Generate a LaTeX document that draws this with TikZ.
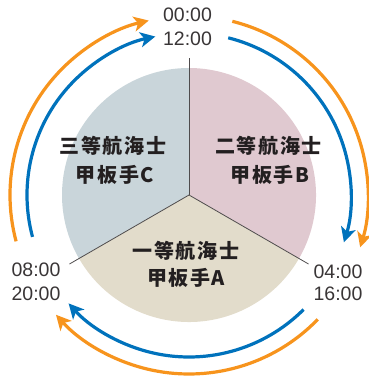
\documentclass[tikz,border=0pt]{standalone}
\usepackage{fontspec}
\setmainfont{Liberation Sans}
\newfontfamily\jp{Noto Sans CJK JP}[LetterSpace=8]
\usetikzlibrary{arrows.meta}
\definecolor{orng}{HTML}{F7941D}
\definecolor{blu}{HTML}{0072BC}
\definecolor{pieC}{HTML}{C9D5DA}
\definecolor{pieB}{HTML}{E0C9D0}
\definecolor{pieA}{HTML}{E2DCCB}
\definecolor{txt}{HTML}{231F20}
\tikzset{
  timelbl/.style={font=\fontsize{19.5}{23}\selectfont, text=txt!90, inner sep=0pt, anchor=center},
  jplbl/.style={font=\jp\bfseries\fontsize{20}{22}\selectfont, text=txt, inner sep=0pt, anchor=center},
  leader/.style={draw=txt!80, line width=0.8pt},
  orarc/.style={draw=orng, line width=3.2pt, -{Stealth[length=15pt,width=15pt,inset=4pt]}},
  blarc/.style={draw=blu, line width=3.2pt, -{Stealth[length=15pt,width=15pt,inset=4pt]}},
}
\begin{document}
\begin{tikzpicture}[x=1pt,y=1pt]
\useasboundingbox (0,0) rectangle (369,378);
\coordinate (c) at (189,183);
% pie
\fill[pieC] (c) -- ++(90:127) arc[start angle=90,end angle=210,radius=127] -- cycle;
\fill[pieB] (c) -- ++(-30:127) arc[start angle=-30,end angle=90,radius=127] -- cycle;
\fill[pieA] (c) -- ++(210:127) arc[start angle=210,end angle=330,radius=127] -- cycle;
% leader lines
\path (c) ++(90:137) coordinate (lt);
\path (c) ++(330:138) coordinate (lr);
\path (c) ++(210:138) coordinate (ll);
\draw[leader] (c) -- (lt);
\draw[leader] (c) -- (lr);
\draw[leader] (c) -- (ll);
% arcs
\draw[orarc] (c) ++(195:179) arc[start angle=195,end angle=103,radius=179];
\draw[blarc] (c) ++(195:162) arc[start angle=195,end angle=102,radius=162];
\draw[orarc] (c) ++(76:179) arc[start angle=76,end angle=-17,radius=179];
\draw[blarc] (c) ++(76:162) arc[start angle=76,end angle=-17,radius=162];
\draw[orarc] (c) ++(-44:179) arc[start angle=-44,end angle=-138,radius=179];
\draw[blarc] (c) ++(-45:162) arc[start angle=-45,end angle=-138,radius=162];
% time labels
\node[timelbl] (t0) at (187.5,363) {00:00};
\node[timelbl] (t12) at (187.5,339.5) {12:00};
\node[timelbl] (t4) at (338,106.5) {04:00};
\node[timelbl] (t16) at (338,84) {16:00};
\node[timelbl] (t8) at (36,108) {08:00};
\node[timelbl] (t20) at (36,84.5) {20:00};
% japanese labels
\node[jplbl] (c1) at (113,232) {三等航海士};
\node[jplbl] (c2) at (115,203) {甲板手C};
\node[jplbl] (b1) at (268.5,232) {二等航海士};
\node[jplbl] (b2) at (270,203) {甲板手B};
\node[jplbl] (a1) at (186,127) {一等航海士};
\node[jplbl] (a2) at (186,100) {甲板手A};
\end{tikzpicture}
\end{document}
